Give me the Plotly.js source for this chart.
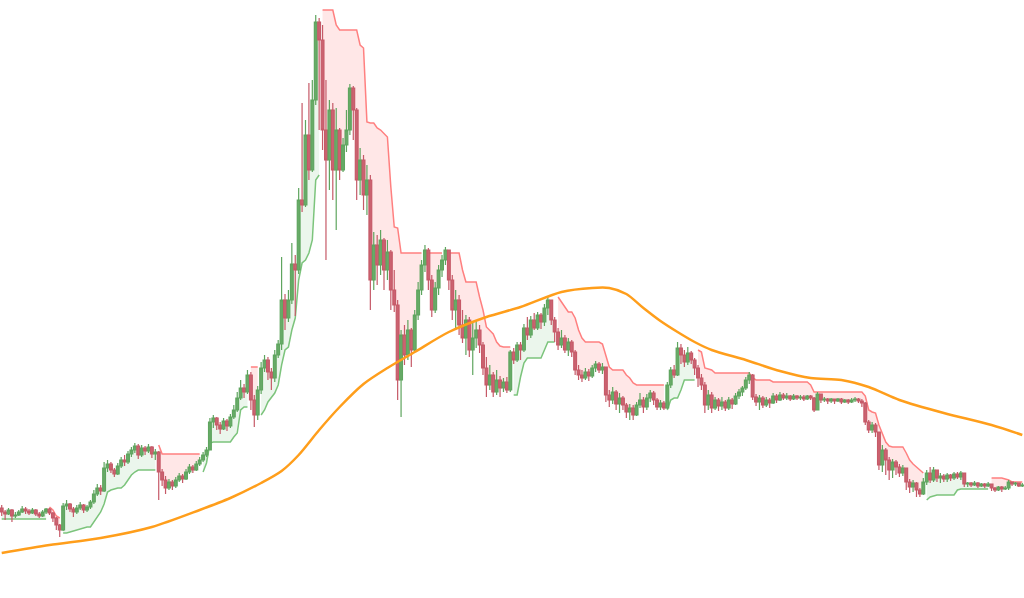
<!DOCTYPE html>
<html>
<head>
<meta charset="utf-8">
<script src="https://cdn.plot.ly/plotly-3.0.1.min.js"></script>
<style>html,body{margin:0;padding:0;background:#fff;}#chart{width:1024px;height:598px;}</style>
</head>
<body>
<div id="chart"></div>
<script>
// ---- data (price units) ----
const firstOpen = 92;
const close = [
88,86,90,84,85,88,91,89,87,90,
86,84,88,91,87,82,75,70,94,96,
91,88,92,95,90,93,98,106,112,109,
132,136,130,126,134,140,138,146,150,154,
145,152,149,153,146,148,128,120,112,118,
114,120,124,121,128,133,130,136,140,145,
150,178,182,175,171,179,174,183,190,202,
212,208,225,200,185,210,232,240,228,222,
245,256,300,282,300,336,330,400,395,465,
430,500,578,560,470,440,490,430,470,430,
455,470,512,490,420,440,405,420,320,355,
335,360,330,348,310,295,220,265,245,270,
250,285,310,335,350,320,290,312,330,340,
350,320,290,300,275,262,280,250,262,270,
255,232,215,225,208,220,212,218,210,248,
240,255,250,272,265,280,272,285,278,292,
300,280,268,255,262,250,258,248,230,225,
222,228,224,232,236,230,233,205,200,208,
196,202,195,188,192,185,195,200,193,202,
207,200,193,197,192,215,230,225,252,245,
238,247,240,232,222,215,195,205,192,200,
194,198,192,200,196,204,208,212,220,225,
203,198,202,195,200,197,204,200,205,202,
204,201,204,202,203,201,204,202,190,206,
200,201,199,201,199,201,198,200,198,200,
201,199,197,178,170,175,168,135,150,140,
130,138,133,127,132,118,113,117,110,106,
118,127,120,130,122,124,121,125,122,126,
123,127,116,117,115,117,114,116,114,116,
112,110,113,111,112,118,116,117,114,115
];
const high = [
95,90,92,91,88,90,94,93,91,92,
91,88,90,92,92,88,83,76,97,100,
97,93,95,98,96,95,100,110,116,115,
138,140,138,132,137,143,145,149,153,157,
156,155,154,156,154,151,149,131,124,121,
120,123,127,126,131,136,135,139,143,148,
153,182,185,183,178,182,181,186,195,208,
220,216,230,228,205,214,238,245,243,232,
250,260,343,306,310,357,345,412,497,480,
517,520,585,582,575,520,500,497,492,472,
462,490,516,514,492,452,445,435,425,368,
365,370,362,360,350,330,300,270,275,280,
272,290,318,340,355,352,325,318,335,345,
353,350,325,310,305,290,285,283,277,280,
275,258,243,235,228,230,224,222,223,250,
252,258,258,276,283,284,287,288,287,296,
303,300,283,272,270,265,262,260,250,235,
230,232,231,235,239,238,237,233,210,213,
210,207,204,197,196,195,198,207,203,206,
210,209,202,200,199,218,233,235,258,256,
250,253,249,242,235,226,218,210,208,203,
202,203,200,203,202,207,211,214,223,228,
226,206,205,204,203,202,207,206,208,207,
207,205,206,205,205,205,205,205,203,208,
206,203,202,202,201,202,202,201,201,202,
203,202,201,198,180,178,177,168,155,152,
143,141,140,136,135,132,121,120,118,112,
122,130,133,133,130,127,126,127,126,128,
128,129,127,118,118,119,118,117,117,118,
116,113,114,114,114,120,118,118,117,117
];
const low = [
84,80,85,78,82,84,87,86,85,86,
84,82,83,86,85,78,70,63,69,90,
88,83,86,90,87,88,91,96,104,105,
108,128,127,123,125,132,134,136,143,147,
141,143,145,147,142,140,100,114,106,110,
110,112,118,117,120,126,127,129,134,138,
143,150,172,170,166,170,169,172,181,188,
200,202,206,190,173,180,206,228,220,210,
218,242,250,270,278,296,284,326,388,393,
420,428,495,470,450,340,410,400,370,420,
428,448,465,460,400,405,390,385,290,310,
315,325,310,320,290,288,200,183,235,240,
233,248,280,305,328,310,283,287,305,323,
335,310,280,270,265,257,245,243,225,252,
247,225,203,210,203,205,203,208,207,208,
236,238,240,248,260,262,270,270,271,274,
285,275,258,250,252,247,244,243,225,220,
218,220,219,222,228,227,226,198,193,196,
190,187,190,182,180,180,184,192,187,190,
198,195,190,190,190,191,212,222,224,236,
233,235,236,225,213,210,187,190,187,190,
189,190,189,190,191,195,201,204,210,216,
200,194,190,192,193,192,196,197,199,200,
200,199,200,200,200,199,200,200,188,190,
197,198,196,197,196,198,196,197,196,197,
198,197,193,175,167,167,163,130,128,125,
120,122,125,123,124,110,107,108,103,103,
105,115,117,118,118,117,118,118,119,120,
121,120,113,113,113,114,112,113,112,113,
109,108,109,108,110,110,114,114,113,113
];
// Supertrend level per candle
const supertrend = [
81,81,81,81,81,81,81,81,81,81,
81,81,81,81,93,90,84,82,67,67,
68,69,70,71,72,73,73,78,84,88,
96,108,110,111,112,112,115,120,125,128,
130,130,130,130,130,130,155,146,146,146,
146,146,146,146,146,146,146,146,146,128,
137,157,158,158,158,158,158,158,163,167,
190,193,193,233,233,233,185,190,198,203,
207,215,235,250,253,270,282,320,337,340,
347,360,420,425,590,590,590,590,575,570,
570,570,570,570,570,555,552,478,477,477,
472,470,466,463,413,373,372,347,347,347,
347,347,347,347,347,347,347,347,347,347,
347,347,347,347,347,330,318,318,318,318,
303,290,273,270,266,258,254,253,253,253,
205,205,223,237,242,242,242,242,242,250,
258,258,258,303,298,294,288,288,282,270,
262,258,258,258,258,258,256,245,233,230,
230,230,230,225,222,217,215,215,215,215,
215,215,215,215,215,190,200,202,202,210,
220,220,220,220,250,248,232,231,230,227,
227,227,227,227,227,227,227,227,227,227,
222,220,220,220,220,220,218,218,218,218,
218,218,218,218,218,218,218,215,208,208,
208,208,208,208,208,208,208,208,208,208,
208,208,208,204,190,188,187,175,166,158,
154,153,153,153,153,147,140,136,133,130,
127,100,103,104,105,105,105,105,105,105,
110,111,111,111,111,111,111,111,111,111,
122,122,122,122,121,120,118,118,118,118
];
// long moving average, read at selected candles
const maIndex = [0,14,29,44,58,67,76,82,87,93,99,106,113,121,131,142,152,164,173,178,183,188,193,198,203,208,218,228,237,246,254,263,276,290,299];
const maValue = [47,55,62,73,90,102,117,129,145,170,193,216,232,248,268,283,293,308,312,312,306,292,279,268,258,250,240,229,222,220,213,200,187,175,165];

// ---- build ----
const N = close.length;
const idx = close.map((_, i) => i);
const open = close.map((c, i) => i === 0 ? firstOpen : close[i - 1]);
const mid = open.map((o, i) => (o + close[i]) / 2);
const up = supertrend.map((s, i) => s < close[i]);

const traces = [];
let start = 0;
for (let i = 1; i <= N; i++) {
  if (i === N || up[i] !== up[start]) {
    const xs = idx.slice(start, i);
    const isUp = up[start];
    traces.push({
      type: 'scatter', mode: 'lines', x: xs, y: mid.slice(start, i),
      line: {width: 0}, hoverinfo: 'skip', showlegend: false
    });
    traces.push({
      type: 'scatter', mode: 'lines', x: xs, y: supertrend.slice(start, i),
      fill: 'tonexty',
      fillcolor: isUp ? 'rgba(76,175,80,0.11)' : 'rgba(255,82,82,0.14)',
      line: {color: isUp ? '#7cc47c' : '#ff8080', width: 1.5},
      showlegend: false
    });
    start = i;
  }
}
traces.push({
  type: 'candlestick', x: idx, open: open, high: high, low: low, close: close,
  xaxis: 'x2', yaxis: 'y2',
  increasing: {line: {color: '#5fa55f', width: 1.2}, fillcolor: '#68ab68'},
  decreasing: {line: {color: '#c65a68', width: 1.2}, fillcolor: '#cb6371'},
  whiskerwidth: 0, showlegend: false
});
traces.push({
  type: 'scatter', mode: 'lines', x: maIndex, y: maValue,
  xaxis: 'x2', yaxis: 'y2',
  line: {color: '#ff9e1b', width: 2.5, shape: 'spline', smoothing: 0.8},
  showlegend: false
});

const xr = [-0.5, N - 0.5];
const yr = [2, 600];
const layout = {
  width: 1024, height: 598,
  margin: {l: 0, r: 0, t: 0, b: 0},
  paper_bgcolor: '#ffffff', plot_bgcolor: '#ffffff',
  showlegend: false,
  boxgap: 0.1, boxgroupgap: 0.1,
  xaxis: {range: xr, visible: false, rangeslider: {visible: false}},
  yaxis: {range: yr, visible: false},
  xaxis2: {range: xr, visible: false, overlaying: 'x', rangeslider: {visible: false}},
  yaxis2: {range: yr, visible: false, overlaying: 'y'}
};
Plotly.newPlot('chart', traces, layout, {displayModeBar: false, staticPlot: true});
</script>
</body>
</html>
